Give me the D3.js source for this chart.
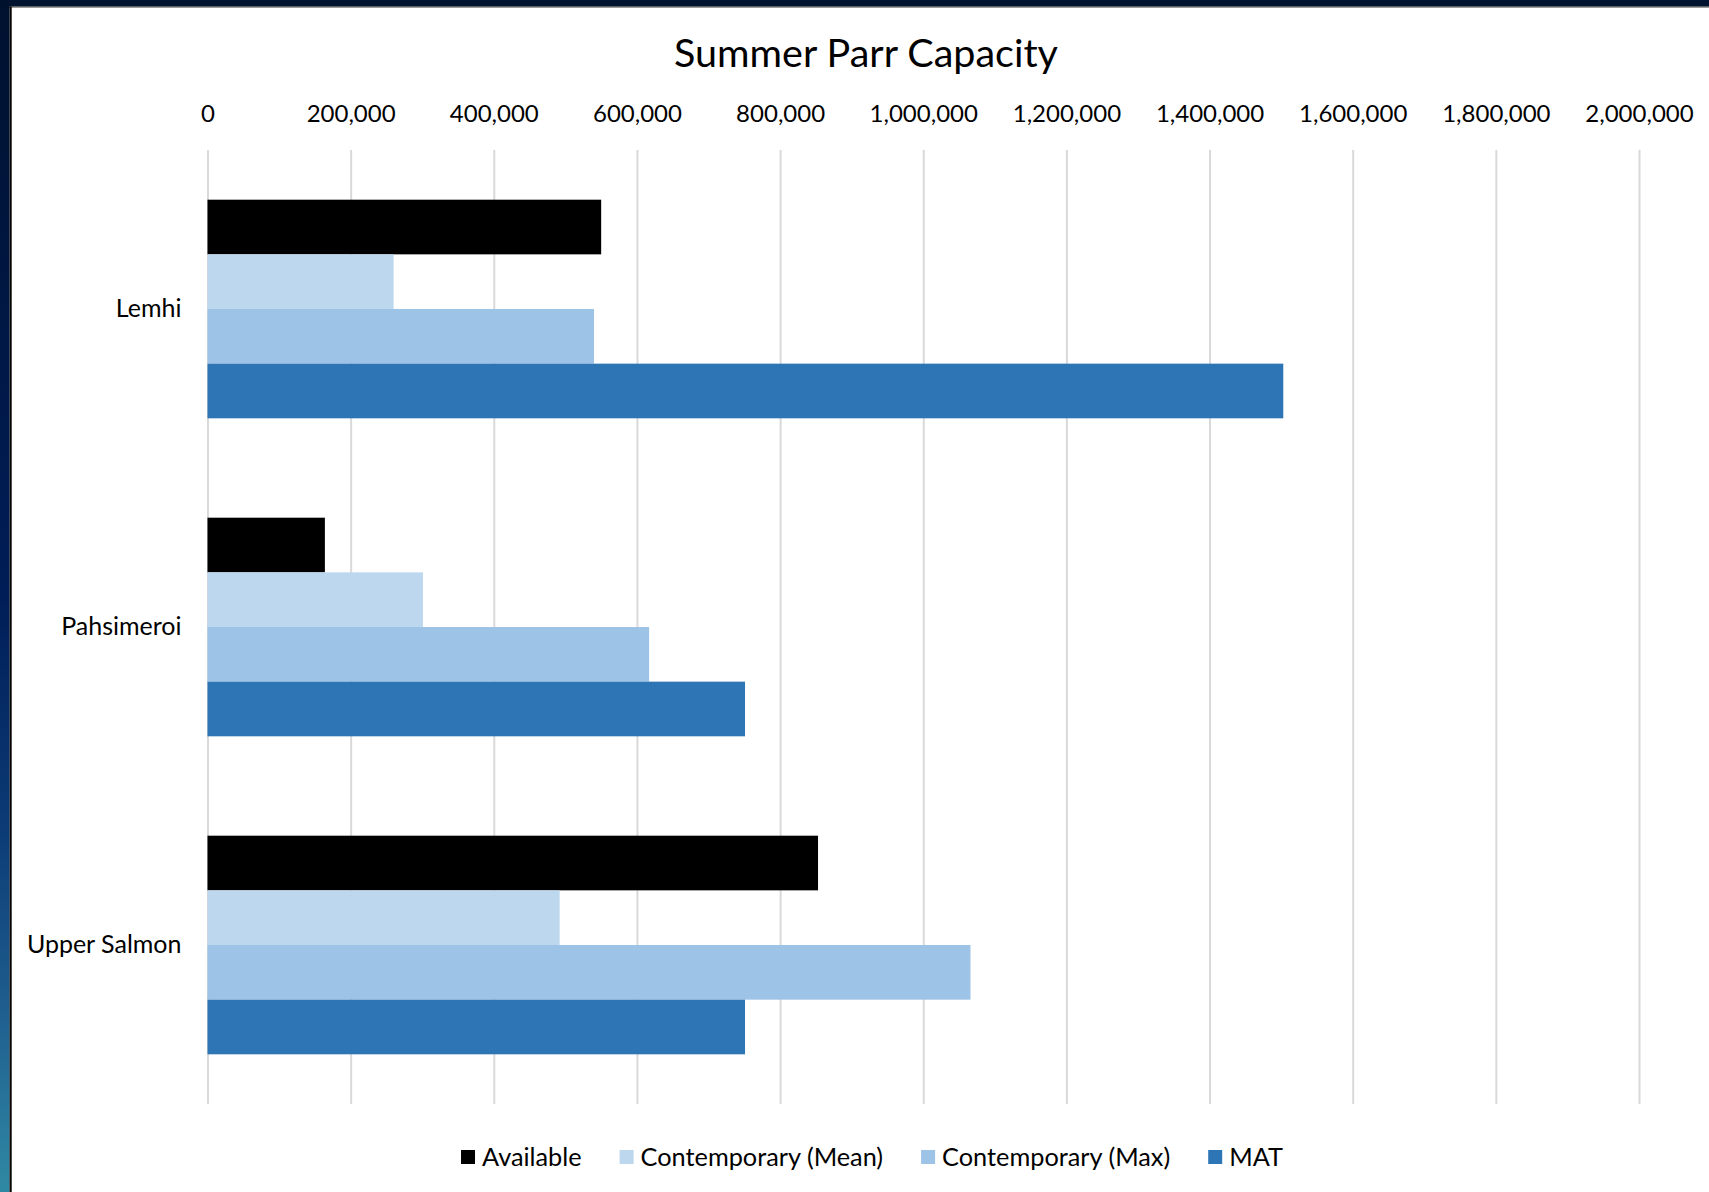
<!DOCTYPE html>
<html>
<head>
<meta charset="utf-8">
<script src="https://cdn.jsdelivr.net/npm/d3@7"></script>
<style>
  html, body { margin: 0; padding: 0; background: #ffffff; }
  svg { display: block; }
  text { font-family: Lato, "Open Sans", sans-serif; fill: #000; }
</style>
</head>
<body>
<svg id="chart" width="1709" height="1192"></svg>
<script>
// ---- data ----
const categories = ["Lemhi", "Pahsimeroi", "Upper Salmon"];
const seriesNames = ["Available", "Contemporary (Mean)", "Contemporary (Max)", "MAT"];
const available        = [550000, 164000, 853000];
const contemporaryMean = [260000, 301000, 492000];
const contemporaryMax  = [540000, 617000, 1066000];
const mat              = [1503000, 751000, 751000];
const tickValues = [0, 200000, 400000, 600000, 800000, 1000000, 1200000, 1400000, 1600000, 1800000, 2000000];
const seriesColors = ["#000000", "#BDD7EE", "#9DC3E6", "#2E75B6"];

const seriesValues = [available, contemporaryMean, contemporaryMax, mat];
const rows = categories.map((c, i) => ({
  category: c,
  values: seriesNames.map((s, j) => ({ series: s, value: seriesValues[j][i] }))
}));

// ---- layout ----
const W = 1709, H = 1192;
const plot = { left: 207.5, right: 1639, top: 150, bottom: 1104 };

const svg = d3.select("#chart");

// frame
const defs = svg.append("defs");
const grad = defs.append("linearGradient").attr("id", "sideGrad")
  .attr("x1", 0).attr("y1", 0).attr("x2", 0).attr("y2", 1);
grad.append("stop").attr("offset", "0%").attr("stop-color", "#00112E");
grad.append("stop").attr("offset", "50%").attr("stop-color", "#001D57");
grad.append("stop").attr("offset", "70%").attr("stop-color", "#0C3C76");
grad.append("stop").attr("offset", "85%").attr("stop-color", "#1F5F8F");
grad.append("stop").attr("offset", "100%").attr("stop-color", "#2F89A4");

svg.append("rect").attr("x", 0).attr("y", 0).attr("width", W).attr("height", H).attr("fill", "#fff");
svg.append("rect").attr("x", 0).attr("y", 0).attr("width", W).attr("height", 6.5).attr("fill", "#00132F");
svg.append("rect").attr("x", 0).attr("y", 6.5).attr("width", W).attr("height", 1).attr("fill", "#3a3a3a");
svg.append("rect").attr("x", 0).attr("y", 0).attr("width", 9.5).attr("height", H).attr("fill", "url(#sideGrad)");
svg.append("rect").attr("x", 9.5).attr("y", 6.5).attr("width", 2.2).attr("height", H).attr("fill", "#050505");

// scales
const x = d3.scaleLinear().domain([0, 2000000]).range([plot.left, plot.right]);
const y0 = d3.scaleBand().domain(categories).range([plot.top, plot.bottom])
  .paddingInner(0.3125).paddingOuter(0.15625);
const y1 = d3.scaleBand().domain(seriesNames).range([0, y0.bandwidth()]).padding(0);
const color = d3.scaleOrdinal().domain(seriesNames).range(seriesColors);

// gridlines
const grid = svg.append("g").attr("class", "grid")
  .attr("transform", `translate(0,${plot.top})`)
  .call(d3.axisBottom(x).tickValues(tickValues).tickSize(plot.bottom - plot.top).tickFormat(""));
grid.select(".domain").remove();
grid.selectAll("line").attr("stroke", "#D9D9D9").attr("stroke-width", 2);

// top axis labels
const xAxis = svg.append("g").attr("class", "x-axis")
  .attr("transform", `translate(0,${plot.top})`)
  .call(d3.axisTop(x).tickValues(tickValues).tickSize(0).tickPadding(28).tickFormat(d3.format(",")));
xAxis.select(".domain").remove();
xAxis.selectAll("text").style("font-size", "24px").attr("fill", "#000");

// category labels
const yAxis = svg.append("g").attr("class", "y-axis")
  .attr("transform", `translate(${plot.left},0)`)
  .call(d3.axisLeft(y0).tickSize(0).tickPadding(26));
yAxis.select(".domain").remove();
yAxis.selectAll("text").style("font-size", "25px").attr("fill", "#000");

// bars
const groups = svg.append("g").selectAll("g.group").data(rows).join("g")
  .attr("class", "group")
  .attr("transform", d => `translate(0,${y0(d.category)})`);
groups.selectAll("rect").data(d => d.values).join("rect")
  .attr("x", x(0))
  .attr("y", d => y1(d.series))
  .attr("height", y1.bandwidth())
  .attr("width", d => x(d.value) - x(0))
  .attr("fill", d => color(d.series));

// title
svg.append("text")
  .attr("x", 866).attr("y", 67)
  .attr("text-anchor", "middle")
  .style("font-size", "39.5px")
  .text("Summer Parr Capacity");

// legend
const legend = svg.append("g").attr("class", "legend");
const items = legend.selectAll("g").data(seriesNames).join("g");
items.append("rect").attr("width", 14).attr("height", 14).attr("y", -7)
  .attr("fill", d => color(d));
items.append("text").attr("x", 21).attr("dy", "0.35em")
  .style("font-size", "25.3px").text(d => d);
let cursor = 0;
items.each(function () {
  const g = d3.select(this);
  g.attr("transform", `translate(${cursor},0)`);
  cursor += 21 + g.select("text").node().getComputedTextLength() + 38;
});
const legendWidth = cursor - 38;
legend.attr("transform", `translate(${872 - legendWidth / 2},1157)`);
</script>
</body>
</html>
